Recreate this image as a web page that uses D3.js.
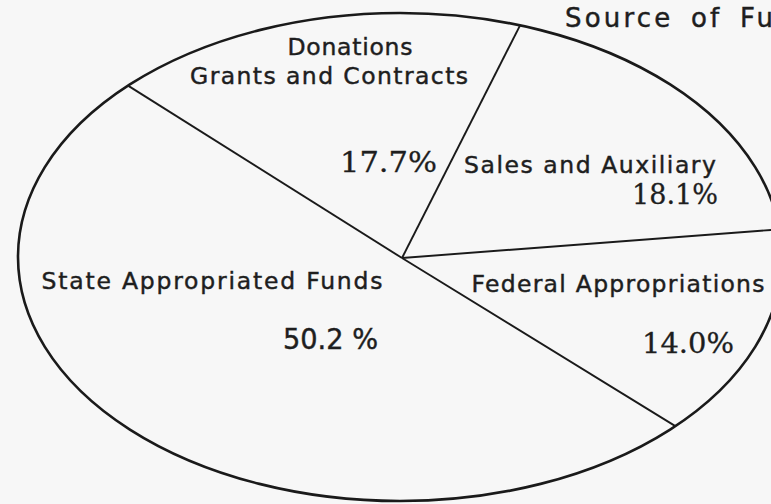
<!DOCTYPE html>
<html>
<head>
<meta charset="utf-8">
<script src="https://cdn.jsdelivr.net/npm/d3@7"></script>
<style>
  html, body { margin: 0; padding: 0; background: #f7f7f7; }
  svg { display: block; }
  .sans { font-family: "DejaVu Sans", sans-serif; fill: #1e1e1e; stroke: #1e1e1e; stroke-width: 0.45; }
  .cond { font-family: "DejaVu Sans Condensed", "DejaVu Sans", sans-serif; fill: #1e1e1e; stroke: #1e1e1e; stroke-width: 0.4; }
  .serif { font-family: "DejaVu Serif", serif; fill: #1e1e1e; stroke: #1e1e1e; stroke-width: 0.3; }
</style>
</head>
<body>
<div id="chart"></div>
<script>
var categories = ['Donations Grants and Contracts', 'Sales and Auxiliary',
                  'Federal Appropriations', 'State Appropriated Funds'];
var shares = [17.7, 18.1, 14.0, 50.2];
var shareLabels = ['17.7%', '18.1%', '14.0%', '50.2 %'];
var title = 'Source of Funds';

var width = 771, height = 504;
var cx = 400, cy = 257, rx = 382, ry = 244;

var svg = d3.select('#chart').append('svg')
    .attr('width', width)
    .attr('height', height);

svg.append('rect')
   .attr('width', width)
   .attr('height', height)
   .attr('fill', '#f7f7f7');

/* pie angles, first slice starts in the upper left */
var pie = d3.pie().sort(null).startAngle(-45.4 * Math.PI / 180)
    .endAngle((360 - 45.4) * Math.PI / 180);
var arcs = pie(shares);

function edge(a)
{
    return [cx + rx * Math.sin(a), cy - ry * Math.cos(a)];
}

svg.append('ellipse')
   .attr('cx', cx).attr('cy', cy)
   .attr('rx', rx).attr('ry', ry)
   .attr('fill', 'none')
   .attr('stroke', '#1a1a1a')
   .attr('stroke-width', 2.6);

svg.selectAll('line.sep')
   .data(arcs)
   .enter()
       .append('line')
       .attr('class', 'sep')
       .attr('x1', cx + 2)
       .attr('y1', cy + 1)
       .attr('x2', function(d) { return edge(d.startAngle)[0]; })
       .attr('y2', function(d) { return edge(d.startAngle)[1]; })
       .attr('stroke', '#1a1a1a')
       .attr('stroke-width', 1.9);

/* где стоят подписи: строки названия и процент */
var layout = [
    {lines: [['Donations', 350, 55, 125], ['Grants and Contracts', 329, 84, 278]],
     pct: [437, 172, 97, 'serif']},
    {lines: [['Sales and Auxiliary', 590, 173, 252]],
     pct: [718, 204, 86, 'serif']},
    {lines: [['Federal Appropriations', 618, 292, 293]],
     pct: [734, 353, 92, 'serif']},
    {lines: [['State Appropriated Funds', 212, 289, 341]],
     pct: [378, 349, 95, 'cond']}
];

arcs.forEach(function(d, i)
{
    var g = svg.append('g').attr('class', 'slice-label');
    var lay = layout[i];
    var words = categories[i] === 'Donations Grants and Contracts'
        ? ['Donations', 'Grants and Contracts'] : [categories[i]];

    words.forEach(function(w, j)
    {
        var l = lay.lines[j];
        g.append('text')
         .attr('class', 'sans')
         .attr('x', l[1])
         .attr('y', l[2])
         .attr('text-anchor', 'middle')
         .attr('font-size', 23.5)
         .attr('textLength', l[3])
         .attr('lengthAdjust', 'spacing')
         .text(w);
    });

    var p = lay.pct;
    g.append('text')
     .attr('class', p[3])
     .attr('x', p[0] - p[2])
     .attr('y', p[1])
     .attr('font-size', 28)
     .attr('textLength', p[2])
     .attr('lengthAdjust', 'spacingAndGlyphs')
     .text(shareLabels[i]);
});

svg.append('text')
   .attr('class', 'sans')
   .attr('x', 565)
   .attr('y', 27)
   .attr('font-size', 26)
   .attr('letter-spacing', 3.2)
   .attr('word-spacing', 6)
   .text(title);
</script>
</body>
</html>
